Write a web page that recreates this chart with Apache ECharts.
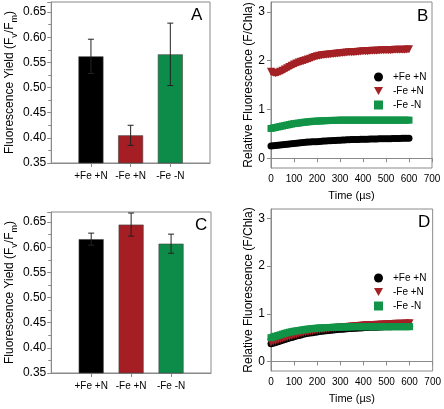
<!DOCTYPE html>
<html><head><meta charset="utf-8">
<script src="https://cdn.jsdelivr.net/npm/echarts@6/dist/echarts.min.js"></script>
<style>html,body{margin:0;padding:0;background:#fff}#c{width:444px;height:409px}</style>
</head><body><div id="c"></div>
<script>
var treatments = ['+Fe +N', '-Fe +N', '-Fe -N'];
var yieldA = [0.562, 0.405, 0.566];
var errA = [0.034, 0.020, 0.062];
var yieldC = [0.616, 0.645, 0.607];
var errC = [0.012, 0.023, 0.019];
var barColors = ['#000000', '#a41e24', '#0d8c49'];

var timeUs = [0,10,20,30,40,50,60,70,80,90,
  100,110,120,130,140,150,160,170,180,190,
  200,210,220,230,240,250,260,270,280,290,
  300,310,320,330,340,350,360,370,380,390,
  400,410,420,430,440,450,460,470,480,490,
  500,510,520,530,540,550,560,570,580,590,600];
var bBlack = [.25,.255,.26,.265,.27,.275,.28,.285,.29,.295,
  .30,.305,.31,.315,.32,.325,.33,.333,.336,.338,
  .34,.345,.35,.352,.355,.358,.36,.362,.365,.368,
  .37,.372,.375,.378,.38,.382,.385,.385,.385,.388,
  .39,.39,.39,.392,.395,.395,.395,.398,.40,.40,
  .40,.40,.40,.402,.405,.405,.405,.408,.41,.41,.41];
var bRed = [1.77,1.75,1.74,1.75,1.77,1.79,1.82,1.845,1.87,1.895,
  1.92,1.94,1.96,1.975,1.99,2.005,2.02,2.04,2.06,2.075,
  2.09,2.10,2.11,2.115,2.12,2.125,2.13,2.135,2.14,2.145,
  2.15,2.155,2.16,2.165,2.17,2.17,2.17,2.175,2.18,2.185,
  2.19,2.19,2.19,2.195,2.20,2.20,2.20,2.205,2.21,2.21,
  2.21,2.21,2.21,2.215,2.22,2.22,2.22,2.22,2.22,2.225,2.23];
var bGreen = [.61,.62,.63,.64,.65,.66,.67,.68,.69,.70,
  .71,.715,.72,.728,.735,.74,.745,.75,.755,.758,
  .76,.763,.765,.768,.77,.772,.775,.775,.775,.778,
  .78,.78,.78,.78,.78,.78,.78,.78,.78,.78,
  .78,.78,.78,.78,.78,.78,.78,.78,.78,.78,
  .78,.78,.78,.78,.78,.78,.78,.78,.78,.78,.78];
var dBlack = [.37,.385,.40,.415,.43,.445,.46,.475,.49,.505,
  .52,.533,.545,.558,.57,.58,.59,.598,.605,.613,
  .62,.628,.635,.64,.645,.65,.655,.66,.665,.67,
  .675,.678,.68,.685,.69,.692,.695,.698,.70,.705,
  .71,.712,.715,.718,.72,.72,.72,.722,.725,.728,
  .73,.73,.73,.732,.735,.735,.735,.738,.74,.74,.74];
var dRed = [.40,.415,.43,.445,.46,.475,.49,.505,.52,.535,
  .55,.563,.575,.588,.60,.61,.62,.628,.635,.643,
  .65,.658,.665,.673,.68,.685,.69,.695,.70,.708,
  .715,.718,.72,.725,.73,.735,.74,.743,.745,.75,
  .755,.758,.76,.763,.765,.768,.77,.773,.775,.778,
  .78,.783,.785,.788,.79,.79,.79,.793,.795,.798,.80];
var dGreen = [.50,.515,.53,.545,.56,.575,.59,.603,.615,.625,
  .635,.643,.65,.658,.665,.673,.68,.685,.69,.695,
  .70,.703,.705,.708,.71,.713,.715,.718,.72,.72,
  .72,.723,.725,.725,.725,.728,.73,.73,.73,.73,
  .73,.73,.73,.73,.73,.73,.73,.73,.73,.73,
  .73,.73,.73,.73,.73,.73,.73,.73,.73,.73,.73];
var seriesColors = ['#000000', '#a32025', '#119447'];
var panelLetters = ['A', 'B', 'C', 'D'];

var FONT = 'Liberation Sans, Arial, sans-serif';
var axisGray = '#8a8a8a';

function pairs(xs, ys) { return xs.map(function (x, i) { return [x, ys[i]]; }); }

function barYAxis(gi) {
  return {
    type: 'value', gridIndex: gi, min: 0.35, max: 0.67, interval: 0.05,
    name: 'Fluorescence Yield (F{sub|v}/F{sub|m})', nameLocation: 'middle', nameGap: 32,
    nameTextStyle: { fontFamily: FONT, fontSize: 12, color: '#000', lineHeight: 18,
      rich: { sub: { fontFamily: FONT, fontSize: 9, lineHeight: 9, verticalAlign: 'bottom', color: '#000' } } },
    axisLine: { show: true, lineStyle: { color: axisGray } },
    axisTick: { show: true, length: 4, lineStyle: { color: axisGray } },
    minorTick: { show: true, splitNumber: 2, length: 3, lineStyle: { color: axisGray } },
    splitLine: { show: false },
    axisLabel: { fontFamily: FONT, fontSize: 12, color: '#000', margin: 5,
      formatter: function (v) { return v.toFixed(2); } }
  };
}
function barXAxis(gi) {
  return {
    type: 'value', gridIndex: gi, min: 0, max: 4, interval: 1,
    axisLine: { show: true, lineStyle: { color: axisGray } },
    axisTick: { show: true, length: 4, lineStyle: { color: axisGray }, customValues: [1, 2, 3] },
    axisLabel: { fontFamily: FONT, fontSize: 10, color: '#000', margin: 8, customValues: [1, 2, 3],
      formatter: function (v) { return treatments[v - 1] || ''; } },
    splitLine: { show: false }
  };
}
function lineXAxis(gi) {
  return {
    type: 'value', gridIndex: gi, min: 0, max: 700, interval: 100,
    name: 'Time (\u00b5s)', nameLocation: 'middle', nameGap: 22,
    nameTextStyle: { fontFamily: FONT, fontSize: 11, color: '#000' },
    axisLine: { show: true, lineStyle: { color: axisGray } },
    axisTick: { show: true, length: 4, lineStyle: { color: axisGray } },
    axisLabel: { fontFamily: FONT, fontSize: 10, color: '#000', margin: 6 },
    splitLine: { show: false }
  };
}
function lineYAxis(gi) {
  return {
    type: 'value', gridIndex: gi, min: -0.2, max: 3.2, interval: 1,
    name: 'Relative Fluorescence (F/Chla)', nameLocation: 'middle', nameGap: 16,
    nameTextStyle: { fontFamily: FONT, fontSize: 12, color: '#000' },
    axisLine: { show: true, lineStyle: { color: axisGray } },
    axisTick: { show: true, length: 4, lineStyle: { color: axisGray }, customValues: [0, 1, 2, 3] },
    axisLabel: { fontFamily: FONT, fontSize: 12, color: '#000', margin: 6, customValues: [0, 1, 2, 3] },
    splitLine: { show: false }
  };
}

function barSeries(gi, vals) {
  return {
    type: 'bar', xAxisIndex: gi, yAxisIndex: gi, barWidth: 25,
    data: vals.map(function (v, i) {
      return { value: [i + 1, v], itemStyle: { color: barColors[i], borderColor: '#444', borderWidth: 0.6 } };
    }),
    z: 2
  };
}
function errSeries(gi, vals, errs) {
  return {
    type: 'custom', xAxisIndex: gi, yAxisIndex: gi, z: 5,
    data: vals.map(function (v, i) { return [i + 1, v - errs[i], v + errs[i]]; }),
    renderItem: function (params, api) {
      var lo = api.coord([api.value(0), api.value(1)]);
      var hi = api.coord([api.value(0), api.value(2)]);
      var w = 3;
      var st = { stroke: '#222', lineWidth: 1 };
      return { type: 'group', children: [
        { type: 'line', shape: { x1: lo[0], y1: lo[1], x2: hi[0], y2: hi[1] }, style: st },
        { type: 'line', shape: { x1: hi[0] - w, y1: hi[1], x2: hi[0] + w, y2: hi[1] }, style: st },
        { type: 'line', shape: { x1: lo[0] - w, y1: lo[1], x2: lo[0] + w, y2: lo[1] }, style: st }
      ] };
    }
  };
}
function scatter(gi, name, ys, ci, sym, size) {
  return {
    type: 'scatter', name: name, xAxisIndex: gi, yAxisIndex: gi,
    symbol: sym, symbolSize: size, symbolRotate: sym === 'triangle' ? 180 : 0,
    itemStyle: { color: seriesColors[ci], opacity: 1 },
    data: pairs(timeUs, ys), z: 3
  };
}
function band(gi, name, ys, ci, width) {
  return {
    type: 'line', name: name, xAxisIndex: gi, yAxisIndex: gi, showSymbol: false,
    lineStyle: { color: seriesColors[ci], width: width }, itemStyle: { color: seriesColors[ci] },
    data: pairs(timeUs, ys), z: 3
  };
}

var legendData = [
  { name: treatments[0], icon: 'circle' },
  { name: treatments[1], icon: 'path://M0,0 L10,0 L5,9 Z' },
  { name: treatments[2], icon: 'rect' }
];
function legendAt(left, top) {
  return {
    left: left, top: top, orient: 'vertical', itemWidth: 9, itemHeight: 9, itemGap: 4,
    selectedMode: false,
    textStyle: { fontFamily: FONT, fontSize: 10, color: '#000', padding: [0, 0, 0, 5] },
    data: legendData
  };
}

var chart = echarts.init(document.getElementById('c'), null, { renderer: 'canvas' });
chart.setOption({
  animation: false,
  backgroundColor: '#fff',
  grid: [
    { left: 47, top: 2, width: 163, height: 161, show: true, borderColor: axisGray, borderWidth: 1, backgroundColor: 'transparent' },
    { left: 271, top: 2, width: 161, height: 166, show: true, borderColor: axisGray, borderWidth: 1, backgroundColor: 'transparent' },
    { left: 50, top: 212, width: 161, height: 161, show: true, borderColor: axisGray, borderWidth: 1, backgroundColor: 'transparent' },
    { left: 271, top: 209, width: 162, height: 162, show: true, borderColor: axisGray, borderWidth: 1, backgroundColor: 'transparent' }
  ],
  xAxis: [barXAxis(0), lineXAxis(1), barXAxis(2), lineXAxis(3)],
  yAxis: [barYAxis(0), lineYAxis(1), barYAxis(2), lineYAxis(3)],
  legend: [legendAt(369, 67), legendAt(369, 268)],
  series: [
    barSeries(0, yieldA), errSeries(0, yieldA, errA),
    barSeries(2, yieldC), errSeries(2, yieldC, errC),
    scatter(1, treatments[0], bBlack, 0, 'circle', 7),
    band(1, treatments[1], bRed, 1, 6),
    scatter(1, treatments[1], bRed, 1, 'triangle', 8),
    scatter(1, treatments[2], bGreen, 2, 'rect', 7),
    scatter(3, treatments[0], dBlack, 0, 'circle', 7),
    band(3, treatments[1], dRed, 1, 6),
    scatter(3, treatments[1], dRed, 1, 'triangle', 8),
    scatter(3, treatments[2], dGreen, 2, 'rect', 7)
  ],
  graphic: [
    { type: 'text', left: 191, top: 7, style: { text: panelLetters[0], font: '17px ' + FONT, fill: '#000' } },
    { type: 'text', left: 417, top: 8, style: { text: panelLetters[1], font: '17px ' + FONT, fill: '#000' } },
    { type: 'text', left: 195, top: 217, style: { text: panelLetters[2], font: '17px ' + FONT, fill: '#000' } },
    { type: 'text', left: 418, top: 214, style: { text: panelLetters[3], font: '17px ' + FONT, fill: '#000' } }
  ]
});
</script></body></html>
